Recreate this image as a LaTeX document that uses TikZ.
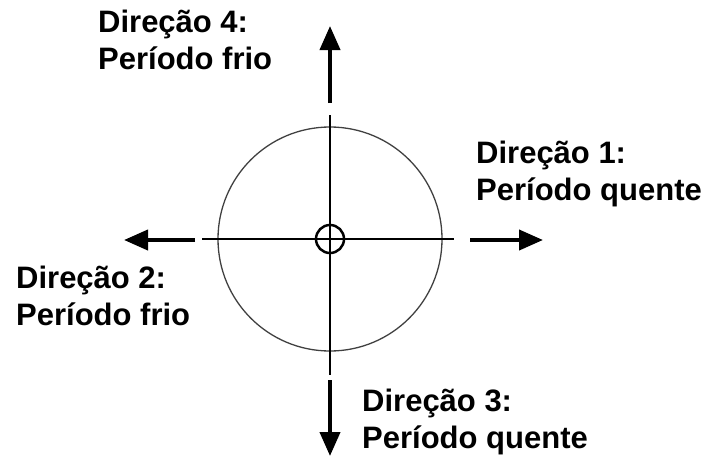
\documentclass[tikz,border=0pt]{standalone}
\usepackage{fontspec}
\setmainfont{Liberation Sans}
\usetikzlibrary{arrows.meta}

\begin{document}
\begin{tikzpicture}[x=1pt, y=-1pt,
    % estilos
    seta/.style={line width=4pt, -{Triangle[length=24pt, width=20pt]}},
    eixo/.style={line width=2pt},
    rotulo/.style={font=\fontsize{31}{36.5}\selectfont\bfseries, align=left,
        anchor=base west, inner sep=0pt}
]
    \useasboundingbox (0,0) rectangle (711,458);

    % --- círculos ---
    \node[circle, draw=black!75, line width=1.3pt, minimum size=224pt, inner sep=0pt] (roda) at (330,239) {};
    \node[circle, draw, line width=2.5pt, minimum size=28pt, inner sep=0pt] (centro) at (330,239) {};

    % --- eixos ---
    \coordinate (eixo_esq)  at (202,239);
    \coordinate (eixo_dir)  at (454,239);
    \coordinate (eixo_topo) at (330,115);
    \coordinate (eixo_base) at (330,375);
    \draw[eixo] (eixo_esq) -- (eixo_dir);
    \draw[eixo] (eixo_topo) -- (eixo_base);

    % --- setas das direções ---
    \coordinate (s1_ini) at (470,240);  \coordinate (s1_fim) at (543,240);
    \coordinate (s2_ini) at (195,240);  \coordinate (s2_fim) at (124,240);
    \coordinate (s3_ini) at (330,380);  \coordinate (s3_fim) at (330,456);
    \coordinate (s4_ini) at (330,103);  \coordinate (s4_fim) at (330,26);
    \draw[seta] (s1_ini) -- (s1_fim);
    \draw[seta] (s2_ini) -- (s2_fim);
    \draw[seta] (s3_ini) -- (s3_fim);
    \draw[seta] (s4_ini) -- (s4_fim);

    % --- rótulos (a âncora fica na linha de base da 2a linha) ---
    \node[rotulo] (dir1) at (476,200) {Direção 1:\\Período quente};
    \node[rotulo] (dir2) at (16,325)  {Direção 2:\\Período frio};
    \node[rotulo] (dir3) at (362,448) {Direção 3:\\Período quente};
    \node[rotulo] (dir4) at (98,69)   {Direção 4:\\Período frio};

\end{tikzpicture}
\end{document}
